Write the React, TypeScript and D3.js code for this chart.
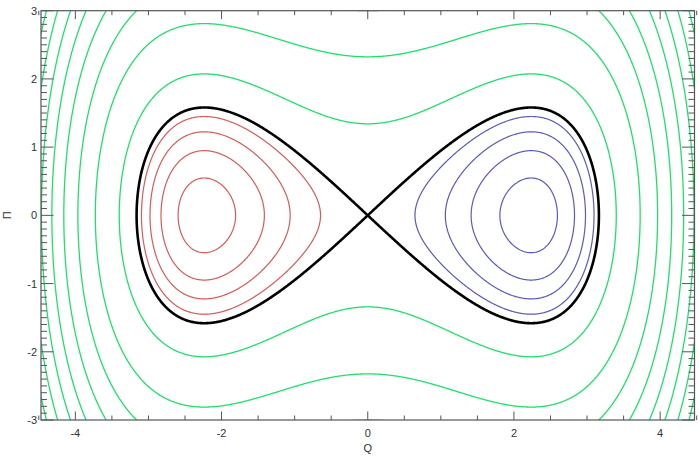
import React, { useMemo } from "react";
import * as d3 from "d3";

// ---- data ----
const xDomain = [-4.47, 4.47];
const yDomain = [-3, 3];
const xMajorTicks = [-4, -2, 0, 2, 4];
const xMinorTicks = [-4.5, -3.5, -3, -2.5, -1.5, -1, -0.5, 0.5, 1, 1.5, 2.5, 3, 3.5, 4.5];
const yMajorTicks = [-3, -2, -1, 0, 1, 2, 3];
const yMinorStep = [0.1];
// Hamiltonian H(Q, Π) = a·Π² + b·Q² + c·Q⁴
const hamiltonianCoefs = [0.5, -0.5, 0.05];
const wellLevels = [-1.1, -0.8, -0.5, -0.2];
const separatrixLevels = [0];
const outerLevels = [0.9, 2.7, 4.5, 6.3, 8.1, 9.9, 11.7, 13.5];

const W = 699;
const H = 456;
const plotLeft = 41;
const plotRight = 694.5;
const plotTop = 10.7;
const plotBottom = 420;

export default function App() {
  const x = d3.scaleLinear().domain(xDomain).range([plotLeft, plotRight]);
  const y = d3.scaleLinear().domain(yDomain).range([plotBottom, plotTop]);

  const paths = useMemo(() => {
    const q0 = -4.705, p0 = -3.205, dq = 0.01, dp = 0.01;
    const nx = 942, ny = 642;
    const [a, b, c] = hamiltonianCoefs;
    const values = new Float64Array(nx * ny);
    for (let j = 0; j < ny; j++) {
      const p = p0 + j * dp;
      for (let i = 0; i < nx; i++) {
        const q = q0 + i * dq;
        values[j * nx + i] = a * p * p + b * q * q + c * q * q * q * q;
      }
    }
    const proj = d3.geoTransform({
      point(cx: number, cy: number) {
        (this as any).stream.point(x(q0 + (cx - 0.5) * dq), y(p0 + (cy - 0.5) * dp));
      },
    });
    const gp = d3.geoPath(proj);
    const gen = (levels: number[]) =>
      d3.contours().size([nx, ny]).thresholds(levels)(values as any).map((g) => gp(g as any) || "");
    return {
      wells: gen(wellLevels),
      sep: gen(separatrixLevels),
      outer: gen(outerLevels),
    };
  }, []);

  const yMinor: number[] = [];
  for (let v = yDomain[0]; v <= yDomain[1] + 1e-9; v += yMinorStep[0]) {
    const r = Math.round(v * 10) / 10;
    if (Math.abs(r - Math.round(r)) > 1e-6) yMinor.push(r);
  }

  const font = "'Liberation Sans', Arial, sans-serif";
  const axisColor = "#555";
  const textColor = "#333";
  const xMid = x(0);

  return (
    <svg width={W} height={H} style={{ position: "absolute", left: 0, top: 0, background: "#fff" }}>
      <defs>
        <clipPath id="plot">
          <rect x={plotLeft} y={plotTop} width={plotRight - plotLeft} height={plotBottom - plotTop} />
        </clipPath>
        <clipPath id="leftHalf">
          <rect x={plotLeft} y={plotTop} width={xMid - plotLeft} height={plotBottom - plotTop} />
        </clipPath>
        <clipPath id="rightHalf">
          <rect x={xMid} y={plotTop} width={plotRight - xMid} height={plotBottom - plotTop} />
        </clipPath>
      </defs>
      <rect x={0} y={0} width={W} height={H} fill="#fff" />
      <g clipPath="url(#plot)" fill="none">
        {paths.outer.map((d, i) => (
          <path key={"o" + i} d={d} stroke="#1fe06a" strokeWidth={1.3} />
        ))}
        <g clipPath="url(#leftHalf)">
          {paths.wells.map((d, i) => (
            <path key={"l" + i} d={d} stroke="#d85a5a" strokeWidth={1.2} />
          ))}
        </g>
        <g clipPath="url(#rightHalf)">
          {paths.wells.map((d, i) => (
            <path key={"r" + i} d={d} stroke="#5a5ac0" strokeWidth={1.2} />
          ))}
        </g>
        {paths.sep.map((d, i) => (
          <path key={"s" + i} d={d} stroke="#000" strokeWidth={2.6} strokeLinejoin="round" />
        ))}
      </g>

      {/* axes box */}
      <rect
        x={plotLeft}
        y={plotTop}
        width={plotRight - plotLeft}
        height={plotBottom - plotTop}
        fill="none"
        stroke={axisColor}
        strokeWidth={1.2}
      />
      {/* ticks */}
      <g stroke={axisColor} strokeWidth={1}>
        {xMajorTicks.map((t) => (
          <g key={"xm" + t}>
            <line x1={x(t)} x2={x(t)} y1={plotBottom} y2={plotBottom - 8.5} />
            <line x1={x(t)} x2={x(t)} y1={plotTop} y2={plotTop + 8.5} />
          </g>
        ))}
        {xMinorTicks.map((t) => (
          <g key={"xn" + t}>
            <line x1={x(t)} x2={x(t)} y1={plotBottom} y2={plotBottom - 4.5} />
            <line x1={x(t)} x2={x(t)} y1={plotTop} y2={plotTop + 4.5} />
          </g>
        ))}
        {yMajorTicks.map((t) => (
          <g key={"ym" + t}>
            <line x1={plotLeft} x2={plotLeft + 12.5} y1={y(t)} y2={y(t)} />
            <line x1={plotRight} x2={plotRight - 12.5} y1={y(t)} y2={y(t)} />
          </g>
        ))}
        {yMinor.map((t) => (
          <g key={"yn" + t}>
            <line x1={plotLeft} x2={plotLeft + 6} y1={y(t)} y2={y(t)} />
            <line x1={plotRight} x2={plotRight - 6} y1={y(t)} y2={y(t)} />
          </g>
        ))}
      </g>
      {/* tick labels */}
      <g fontFamily={font} fontSize={11} fill={textColor}>
        {xMajorTicks.map((t) => (
          <text key={"xl" + t} x={x(t)} y={437} textAnchor="middle">
            {String(t)}
          </text>
        ))}
        {yMajorTicks.map((t) => (
          <text key={"yl" + t} x={37} y={y(t) + 4} textAnchor="end">
            {String(t)}
          </text>
        ))}
        <text x={x(0)} y={452} textAnchor="middle">Q</text>
        <text x={0} y={0} textAnchor="middle" transform={`translate(11, ${y(0)}) rotate(-90)`}>
          Π
        </text>
      </g>
    </svg>
  );
}
